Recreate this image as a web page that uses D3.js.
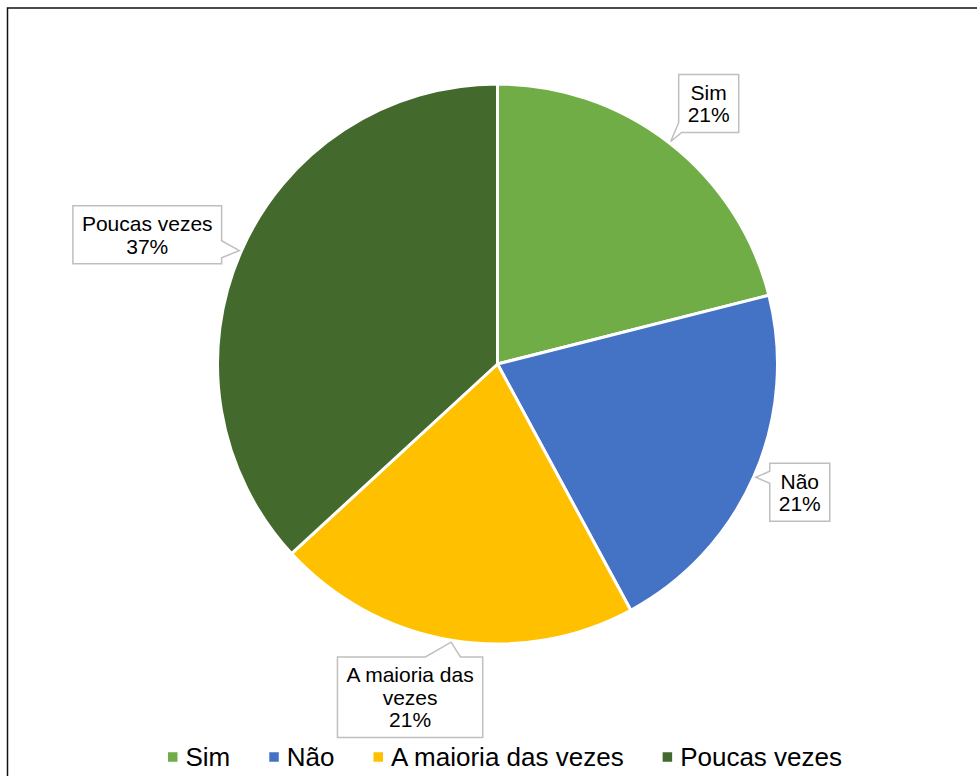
<!DOCTYPE html>
<html>
<head>
<meta charset="utf-8">
<script src="https://cdn.jsdelivr.net/npm/d3@7/dist/d3.min.js"></script>
<style>
  html, body { margin: 0; padding: 0; background: #fff; }
  svg { display: block; font-family: "Liberation Sans", Arial, sans-serif; }
</style>
</head>
<body>
<svg id="chart" width="977" height="776"></svg>
<script>
// ---- data ----
const categories = ["Sim", "Não", "A maioria das vezes", "Poucas vezes"];
const values = [8, 8, 8, 14];
const percentLabels = ["21%", "21%", "21%", "37%"];
const labelLines = [["Sim"], ["Não"], ["A maioria das", "vezes"], ["Poucas vezes"]];
const colors = ["#70AD47", "#4472C4", "#FFC000", "#44692D"];

// ---- layout (not data) ----
const W = 977, H = 776;
const cx = 497.5, cy = 364, R = 280;
// callout placement: box centre offset from tip, side where tail attaches, tail base [a,b]
const callouts = [
  { dx: 38, dy: -38, side: "corner-bl", a: 3, b: 10 },
  { dx: 44, dy: 15, side: "left", a: 8, b: 20 },
  { dx: -41, dy: 55, side: "top", a: 88, b: 123 },
  { dx: -92, dy: -16, side: "right", a: 35, b: 52 }
];

const svg = d3.select("#chart");

// outer border (extends beyond the visible image on right/bottom)
svg.append("rect")
  .attr("x", 7.5).attr("y", 8)
  .attr("width", W + 20).attr("height", H + 20)
  .attr("fill", "none").attr("stroke", "#111").attr("stroke-width", 1.5);

const pie = d3.pie().sort(null).value(d => d)(values);
const arc = d3.arc().innerRadius(0).outerRadius(R);

const g = svg.append("g").attr("transform", `translate(${cx},${cy})`);
g.selectAll("path.slice")
  .data(pie)
  .join("path")
  .attr("class", "slice")
  .attr("d", arc)
  .attr("fill", (d, i) => colors[i])
  .attr("stroke", "#fff")
  .attr("stroke-width", 3)
  .attr("stroke-linejoin", "round");

// callouts
const fontSize = 21, lh = 22.5, pad = 9;
const labG = svg.append("g");
pie.forEach((d, i) => {
  const mid = (d.startAngle + d.endAngle) / 2;
  const tr = R + 2;
  const tip = [cx + tr * Math.sin(mid), cy - tr * Math.cos(mid)];
  const c = callouts[i];
  const lines = labelLines[i].concat([percentLabels[i]]);
  const grp = labG.append("g");
  const pth = grp.append("path");
  const bcx = tip[0] + c.dx, bcy = tip[1] + c.dy;
  const texts = lines.map((t, k) => grp.append("text")
    .attr("x", bcx)
    .attr("y", bcy + (k - (lines.length - 1) / 2) * lh)
    .attr("dy", "0.36em")
    .attr("text-anchor", "middle")
    .attr("font-size", fontSize)
    .attr("fill", "#000")
    .text(t));
  const tw = d3.max(texts, t => t.node().getComputedTextLength());
  const bw = tw + 2 * pad, bh = lines.length * lh + 13;
  const x0 = bcx - bw / 2, x1 = bcx + bw / 2, y0 = bcy - bh / 2, y1 = bcy + bh / 2;
  let pts;
  const TL = [x0, y0], TR = [x1, y0], BR = [x1, y1], BL = [x0, y1];
  if (c.side === "top") pts = [TL, [x0 + c.a, y0], tip, [x0 + c.b, y0], TR, BR, BL];
  else if (c.side === "right") pts = [TL, TR, [x1, y0 + c.a], tip, [x1, y0 + c.b], BR, BL];
  else if (c.side === "left") pts = [TL, TR, BR, BL, [x0, y0 + c.b], tip, [x0, y0 + c.a]];
  else if (c.side === "corner-bl") pts = [TL, TR, BR, [x0 + c.a, y1], tip, [x0, y1 - c.b]];
  pth.attr("d", "M" + pts.map(p => p.join(",")).join("L") + "Z")
    .attr("fill", "#fff")
    .attr("stroke", "#BFBFBF")
    .attr("stroke-width", 1.5);
});

// legend
const legFont = 26, sq = 9.5, gapText = 8, gapItem = 39;
const leg = svg.append("g");
const items = categories.map((cat, i) => {
  const it = leg.append("g");
  it.append("rect").attr("width", sq).attr("height", sq).attr("y", -sq / 2).attr("fill", colors[i]);
  const t = it.append("text").attr("x", sq + gapText).attr("dy", "0.36em")
    .attr("font-size", legFont).attr("fill", "#000").text(cat);
  return { it, w: sq + gapText + t.node().getComputedTextLength() };
});
const total = d3.sum(items, d => d.w) + gapItem * (items.length - 1);
let lx = 505 - total / 2;
const ly = 757;
items.forEach(d => {
  d.it.attr("transform", `translate(${lx},${ly})`);
  lx += d.w + gapItem;
});
</script>
</body>
</html>
